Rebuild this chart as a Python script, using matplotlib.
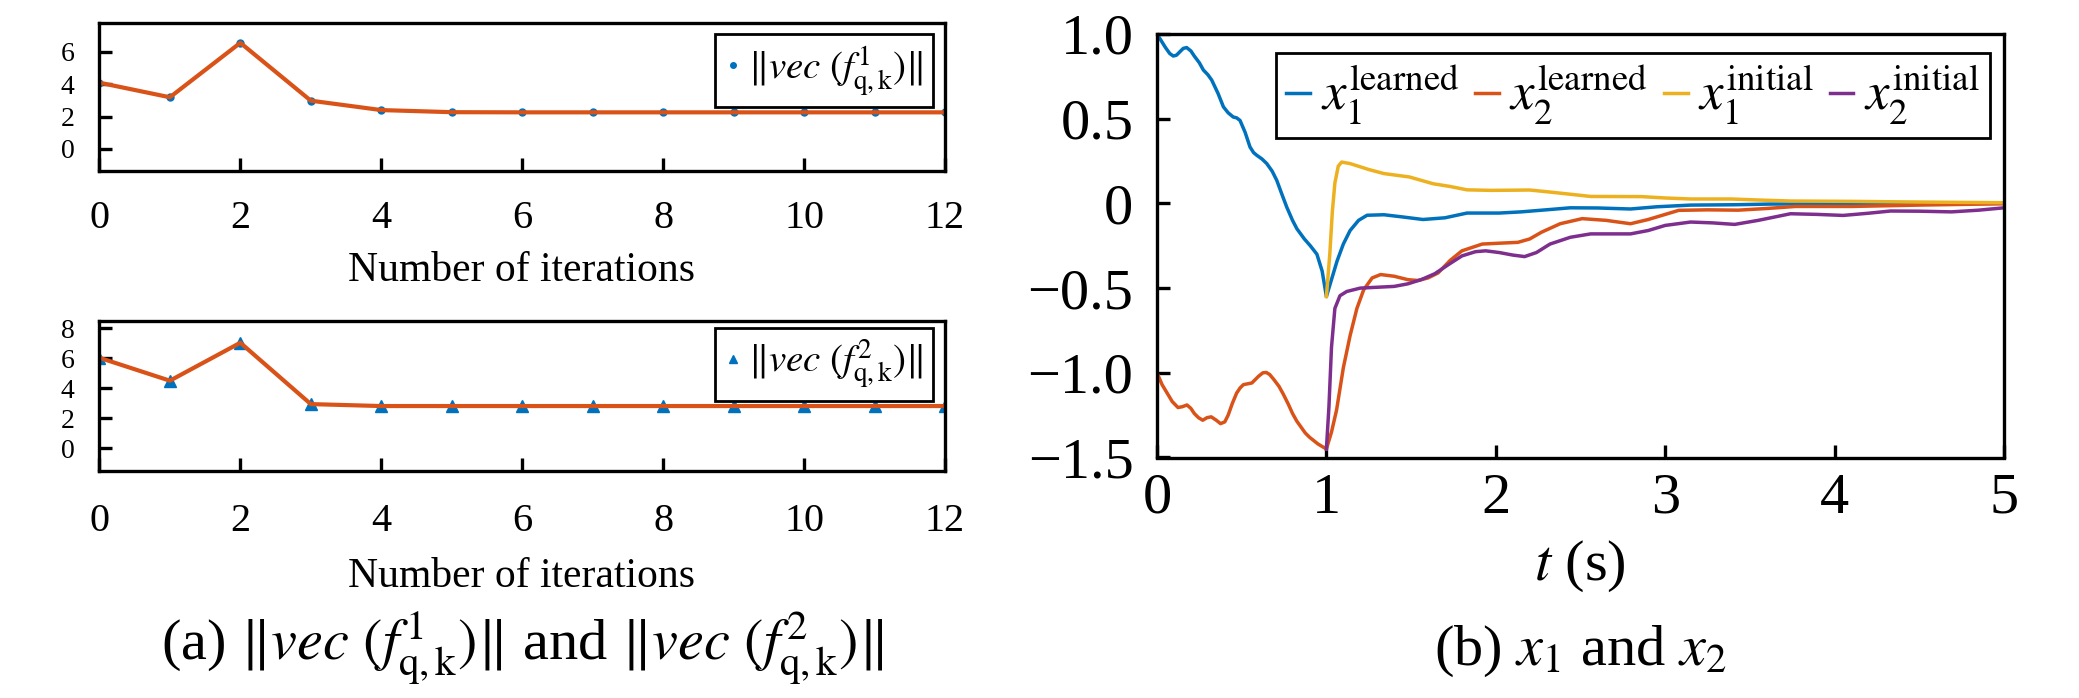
import matplotlib
matplotlib.use("Agg")
import matplotlib.pyplot as plt

plt.rcParams['font.family'] = ['Liberation Serif', 'DejaVu Serif']
plt.rcParams['mathtext.fontset'] = 'stix'

# MATLAB default colours
blue = "#0072BD"
orange = "#D95319"
yellow = "#EDB120"
purple = "#7E2F8E"

# (a) norms per iteration
iterations = list(range(13))
norm_f1 = [4.09, 3.19, 6.55, 2.98, 2.40, 2.27, 2.26, 2.26, 2.26, 2.26, 2.26, 2.26, 2.26]
norm_f2 = [6.02, 4.49, 7.02, 2.93, 2.80, 2.80, 2.80, 2.80, 2.80, 2.80, 2.80, 2.80, 2.80]
iter_ticks = [0, 2, 4, 6, 8, 10, 12]
f1_yticks = [0, 2, 4, 6]
f2_yticks = [0, 2, 4, 6, 8]

# (b) state trajectories
t_x1_learned = [0.0, 0.025, 0.05, 0.075, 0.096, 0.115, 0.135, 0.155, 0.175, 0.2, 0.22, 0.25,
                0.274, 0.3, 0.323, 0.36, 0.392, 0.42, 0.45, 0.47, 0.49, 0.52,
                0.549, 0.57, 0.589, 0.62, 0.648, 0.68, 0.707, 0.735, 0.766, 0.8, 0.826, 0.87,
                0.905, 0.944, 0.975, 1.0,
                1.03, 1.063, 1.10, 1.14, 1.19, 1.24, 1.34, 1.45, 1.57, 1.7, 1.83, 2.02,
                2.15, 2.32, 2.44, 2.6, 2.795, 2.95, 3.15, 3.4, 3.62, 4.0, 4.5, 5.0]
x1_learned = [1.0, 0.96, 0.92, 0.885, 0.87, 0.875, 0.895, 0.915, 0.92, 0.9, 0.87, 0.83,
              0.787, 0.76, 0.728, 0.65, 0.57, 0.535, 0.51, 0.505, 0.49, 0.42,
              0.333, 0.3, 0.284, 0.262, 0.235, 0.19, 0.136, 0.06, -0.022, -0.1, -0.15, -0.21,
              -0.25, -0.30, -0.40, -0.55,
              -0.45, -0.34, -0.24, -0.16, -0.10, -0.07, -0.067, -0.08, -0.095, -0.085, -0.057, -0.057,
              -0.05, -0.036, -0.026, -0.027, -0.033, -0.02, -0.01, -0.008, -0.004, -0.002, 0.0, 0.0]

t_x2_learned = [0.0, 0.03, 0.06, 0.09, 0.124, 0.15, 0.177, 0.2, 0.22, 0.245, 0.27, 0.295, 0.32,
                0.35, 0.375, 0.4, 0.42, 0.445, 0.47, 0.49, 0.51, 0.535, 0.56,
                0.58, 0.60, 0.625, 0.645, 0.665, 0.69, 0.72, 0.745, 0.775, 0.80, 0.825, 0.85,
                0.875, 0.90, 0.95, 1.0,
                1.03, 1.06, 1.10, 1.14, 1.18, 1.22, 1.27, 1.32, 1.40, 1.48, 1.54, 1.60,
                1.66, 1.73, 1.80, 1.92, 2.02, 2.13, 2.20, 2.27, 2.38, 2.51, 2.65, 2.795,
                2.9, 3.08, 3.25, 3.43, 3.6, 3.77, 4.1, 4.5, 5.0]
x2_learned = [-1.0, -1.07, -1.12, -1.17, -1.205, -1.2, -1.19, -1.21, -1.24, -1.265, -1.28, -1.265, -1.26,
              -1.28, -1.30, -1.29, -1.25, -1.18, -1.12, -1.09, -1.07, -1.065, -1.06,
              -1.04, -1.02, -1.0, -0.998, -1.01, -1.04, -1.08, -1.125, -1.185, -1.24, -1.285, -1.32,
              -1.355, -1.38, -1.42, -1.45,
              -1.35, -1.22, -0.97, -0.78, -0.62, -0.51, -0.44, -0.42, -0.43, -0.45, -0.455, -0.44,
              -0.41, -0.337, -0.28, -0.24, -0.235, -0.23, -0.21, -0.17, -0.12, -0.09, -0.10, -0.12,
              -0.095, -0.041, -0.038, -0.04, -0.03, -0.018, -0.018, -0.01, -0.002]

t_x1_initial = [1.0, 1.02, 1.035, 1.05, 1.07, 1.09, 1.14, 1.25, 1.34, 1.49, 1.63, 1.73, 1.83,
                1.97, 2.1, 2.2, 2.32, 2.56, 2.86, 3.0, 3.15, 3.39, 3.55, 3.74, 4.1, 4.5, 5.0]
x1_initial = [-0.55, -0.30, -0.05, 0.12, 0.22, 0.244, 0.235, 0.20, 0.176, 0.156, 0.116, 0.10, 0.08,
              0.077, 0.078, 0.079, 0.067, 0.041, 0.04, 0.032, 0.026, 0.026, 0.02, 0.014, 0.012, 0.008, 0.004]

t_x2_initial = [1.0, 1.015, 1.03, 1.05, 1.08, 1.12, 1.2, 1.3, 1.4, 1.48, 1.56, 1.64, 1.73,
                1.80, 1.88, 1.94, 2.02, 2.1, 2.17, 2.24, 2.32, 2.44, 2.56, 2.68, 2.795, 2.9,
                3.0, 3.15, 3.28, 3.41, 3.55, 3.74, 3.9, 4.05, 4.2, 4.33, 4.5, 4.69, 4.85, 5.0]
x2_initial = [-1.45, -1.2, -0.85, -0.62, -0.545, -0.52, -0.50, -0.495, -0.49, -0.475, -0.45, -0.415, -0.355,
              -0.31, -0.285, -0.28, -0.29, -0.305, -0.314, -0.29, -0.24, -0.20, -0.18, -0.18, -0.18, -0.16,
              -0.13, -0.11, -0.115, -0.124, -0.10, -0.061, -0.065, -0.071, -0.058, -0.045, -0.046, -0.05, -0.04, -0.026]

t_ticks = [0, 1, 2, 3, 4, 5]
x_yticks = [1.0, 0.5, 0.0, -0.5, -1.0, -1.5]
x_yticklabels = ["1.0", "0.5", "0", "\u22120.5", "\u22121.0", "\u22121.5"]

leg_f1 = r'$\|\mathit{vec}\ (f^{1}_{\mathrm{q,k}})\|$'
leg_f2 = r'$\|\mathit{vec}\ (f^{2}_{\mathrm{q,k}})\|$'
leg_x = [r'$x_1^{\mathrm{learned}}$', r'$x_2^{\mathrm{learned}}$',
         r'$x_1^{\mathrm{initial}}$', r'$x_2^{\mathrm{initial}}$']

W, H = 2079, 698
fig = plt.figure(figsize=(W / 100, H / 100), dpi=100)


def style_axes(ax, xsize, ysize, xpad, ypad):
    for s in ax.spines.values():
        s.set_linewidth(2.4)
    ax.tick_params(direction='in', length=9.5, width=2.4, top=False, right=False)
    ax.tick_params(axis='x', pad=xpad, labelsize=xsize)
    ax.tick_params(axis='y', pad=ypad, labelsize=ysize)


def fy(y):
    return 1 - y / H


# (a) top
ax1 = fig.add_axes([99.4 / W, fy(170.7), 845.6 / W, 148 / H])
ax1.plot(iterations, norm_f1, linestyle='none', marker='o', ms=5, color=blue, label=leg_f1)
ax1.plot(iterations, norm_f1, color=orange, lw=3)
ax1.set_xlim(0, 12)
ax1.set_ylim(-1.34, 7.79)
ax1.set_xticks(iter_ticks)
ax1.set_yticks(f1_yticks)
style_axes(ax1, 29, 20, 21, 18)
lg = ax1.legend(loc='upper right', bbox_to_anchor=(0.986, 0.924), borderaxespad=0,
                fontsize=28, fancybox=False, edgecolor='black', framealpha=1,
                handlelength=0.4, handletextpad=0.2, borderpad=0.25, markerscale=0.8)
lg.get_frame().set_linewidth(2)

# (a) bottom
ax2 = fig.add_axes([99.4 / W, fy(471), 845.6 / W, 150 / H])
ax2.plot(iterations, norm_f2, linestyle='none', marker='^', ms=8, color=blue, label=leg_f2)
ax2.plot(iterations, norm_f2, color=orange, lw=3)
ax2.set_xlim(0, 12)
ax2.set_ylim(-1.53, 8.47)
ax2.set_xticks(iter_ticks)
ax2.set_yticks(f2_yticks)
style_axes(ax2, 29, 20, 23, 18)
lg = ax2.legend(loc='upper right', bbox_to_anchor=(0.986, 0.953), borderaxespad=0,
                fontsize=28, fancybox=False, edgecolor='black', framealpha=1,
                handlelength=0.4, handletextpad=0.2, borderpad=0.25, markerscale=0.8)
lg.get_frame().set_linewidth(2)

# (b)
ax3 = fig.add_axes([1157 / W, fy(457.5), 847 / W, 423.5 / H])
ax3.plot(t_x1_learned, x1_learned, color=blue, lw=2.5, label=leg_x[0])
ax3.plot(t_x2_learned, x2_learned, color=orange, lw=2.5, label=leg_x[1])
ax3.plot(t_x1_initial, x1_initial, color=yellow, lw=2.5, label=leg_x[2])
ax3.plot(t_x2_initial, x2_initial, color=purple, lw=2.5, label=leg_x[3])
ax3.set_xlim(0, 5)
ax3.set_ylim(-1.5, 1.0)
ax3.set_xticks(t_ticks)
ax3.set_yticks(x_yticks)
ax3.set_yticklabels(x_yticklabels)
style_axes(ax3, 42, 42, 11, 17)
lg = ax3.legend(loc='upper right', bbox_to_anchor=(0.9835, 0.956), borderaxespad=0, ncol=4,
                fontsize=38, fancybox=False, edgecolor='black', framealpha=1,
                handlelength=0.45, handletextpad=0.2, columnspacing=0.3, borderpad=0.2)
lg.get_frame().set_linewidth(2)

# axis labels and captions
fig.text(522 / W, fy(271), "Number of iterations", fontsize=30, ha='center', va='center')
fig.text(522 / W, fy(577), "Number of iterations", fontsize=30, ha='center', va='center')
fig.text(1580 / W, fy(566), r'$t$ (s)', fontsize=42, ha='center', va='center')
fig.text(522 / W, fy(648), r'(a) ' + leg_f1 + ' and ' + leg_f2, fontsize=42,
         ha='center', va='center')
fig.text(1580 / W, fy(651), r'(b) $x_1$ and $x_2$', fontsize=42, ha='center', va='center')

fig.savefig("out.png", dpi=100)
